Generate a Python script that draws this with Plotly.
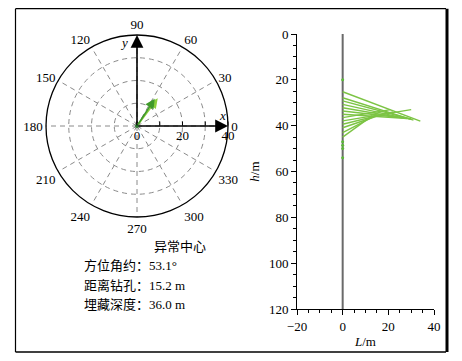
import math
import plotly.graph_objects as go

# ---------------- data ----------------
angle_ticks = [0, 30, 60, 90, 120, 150, 180, 210, 240, 270, 300, 330]
radial_ticks = [0, 10, 20, 30, 40]
radial_labels = ["0", "", "20", "", "40"]

arrow_azimuths = [53.1, 57.0]      # degrees
arrow_distances = [15.2, 14.3]     # m
arrow_colors = ["#8ccf3c", "#3f9a2a"]

azimuth = 53.1
distance = 15.2
depth = 36.0

# fan of lines in the depth profile
fan_start_h = [25.2, 27.8, 29.2, 30.7, 32.2, 33.6, 35.0, 36.5, 37.9, 39.4, 40.9, 43.0, 45.0]
fan_end_L = [34.0, 31.0, 30.0, 28.0, 26.0, 24.0, 30.0, 21.0, 30.0, 22.0, 18.0, 15.0, 13.0]
fan_end_h = [38.0, 37.6, 37.2, 36.9, 36.6, 36.3, 37.0, 33.0, 33.0, 34.0, 34.8, 35.3, 35.6]
dot_h = [20, 47, 48.5, 50, 54]
borehole_h = [0, 120]

# page has an 8px body margin: figure sized to fit the window exactly
OFF = 8
W, H = 462 - 2 * OFF, 361 - 2 * OFF
serif = "Liberation Serif, Times New Roman, Noto Sans CJK SC, serif"

def px(x):
    return (x - OFF) / W

def py(y):
    return 1 - (y - OFF) / H

cx, cy, R = 137, 126, 91
pdx = [px(cx - R), px(cx + R)]
pdy = [py(cy + R), py(cy - R)]

fig = go.Figure()

fig.add_trace(go.Scatterpolar(r=[0], theta=[0], mode="markers",
                              marker=dict(color="#2e7d32", size=4),
                              subplot="polar", showlegend=False, hoverinfo="skip"))

fig.add_trace(go.Scatter(x=[0], y=[0], xaxis="x2", yaxis="y2", mode="markers",
                         marker=dict(opacity=0), showlegend=False, hoverinfo="skip"))

fig.add_trace(go.Scatter(x=[0, 0], y=borehole_h, mode="lines",
                         line=dict(color="#6a6a6a", width=2),
                         showlegend=False, hoverinfo="skip"))

fx, fy = [], []
for h0, le, he in zip(fan_start_h, fan_end_L, fan_end_h):
    fx += [0, le, None]
    fy += [h0, he, None]
fig.add_trace(go.Scatter(x=fx, y=fy, mode="lines",
                         line=dict(color="#7cc444", width=1.4),
                         showlegend=False, hoverinfo="skip"))
fig.add_trace(go.Scatter(x=[0] * len(dot_h), y=dot_h, mode="markers",
                         marker=dict(color="#5cb83a", size=3),
                         showlegend=False, hoverinfo="skip"))

fig.update_layout(
    width=W, height=H,
    margin=dict(l=0, r=0, t=0, b=0, autoexpand=False),
    paper_bgcolor="white", plot_bgcolor="white",
    font=dict(family=serif, size=13, color="black"),
    polar=dict(
        domain=dict(x=pdx, y=pdy),
        bgcolor="rgba(0,0,0,0)",
        angularaxis=dict(
            tickvals=angle_ticks, ticktext=[str(a) for a in angle_ticks],
            direction="counterclockwise", rotation=0,
            showline=True, linecolor="black", linewidth=1.3,
            ticks="", showgrid=True, gridcolor="#8a8a8a", gridwidth=1,
            griddash="5px,4px", tickfont=dict(family=serif, size=13),
        ),
        radialaxis=dict(
            range=[0, 40], tickvals=radial_ticks, ticktext=radial_labels,
            angle=0, side="clockwise", ticks="inside", ticklen=4,
            tickcolor="black", showline=False, showgrid=True,
            gridcolor="#8a8a8a", gridwidth=1, griddash="5px,4px",
            tickangle=0, tickfont=dict(family=serif, size=13),
        ),
    ),
    xaxis=dict(
        domain=[px(297), px(434)], range=[-20, 40],
        tickvals=[-20, 0, 20, 40], ticks="outside", ticklen=5, tickcolor="black",
        minor=dict(dtick=5, tick0=0, ticks="outside", ticklen=3, tickcolor="black"),
        showline=True, linecolor="black", linewidth=1,
        showgrid=False, zeroline=False,
        tickfont=dict(family=serif, size=13),
        title=dict(text="<i>L</i>/m", font=dict(family=serif, size=13), standoff=4),
    ),
    yaxis=dict(
        domain=[py(309), py(34)], range=[120, 0],
        tickvals=[0, 20, 40, 60, 80, 100, 120], ticks="outside", ticklen=5, tickcolor="black",
        minor=dict(dtick=5, tick0=0, ticks="outside", ticklen=3, tickcolor="black"),
        showline=True, linecolor="black", linewidth=1,
        showgrid=False, zeroline=False,
        tickfont=dict(family=serif, size=13),
        title=dict(text="<i>h</i>/m", font=dict(family=serif, size=13), standoff=6),
    ),
    xaxis2=dict(domain=pdx, range=[-40, 40], visible=False, fixedrange=True),
    yaxis2=dict(domain=pdy, range=[-40, 40], visible=False, fixedrange=True),
)

ann = []
ann.append(dict(x=40, y=0, ax=0, ay=0, xref="x2", yref="y2", axref="x2", ayref="y2",
                showarrow=True, arrowhead=2, arrowsize=1.6, arrowwidth=1.6,
                arrowcolor="black", text=""))
ann.append(dict(x=0, y=40, ax=0, ay=0, xref="x2", yref="y2", axref="x2", ayref="y2",
                showarrow=True, arrowhead=2, arrowsize=1.6, arrowwidth=1.6,
                arrowcolor="black", text=""))
for az, d, c in zip(arrow_azimuths, arrow_distances, arrow_colors):
    ex = d * math.cos(math.radians(az))
    ey = d * math.sin(math.radians(az))
    ann.append(dict(x=ex, y=ey, ax=0, ay=0, xref="x2", yref="y2", axref="x2", ayref="y2",
                    showarrow=True, arrowhead=2, arrowsize=1.2, arrowwidth=1.6,
                    arrowcolor=c, text=""))
ann.append(dict(x=37.4, y=4.6, xref="x2", yref="y2", text="<i>x</i>", showarrow=False,
                font=dict(family=serif, size=13)))
ann.append(dict(x=-5.8, y=36.5, xref="x2", yref="y2", text="<i>y</i>", showarrow=False,
                font=dict(family=serif, size=13)))

ann.append(dict(x=px(152), y=py(256), xref="paper", yref="paper", text="异常中心",
                showarrow=False, font=dict(family=serif, size=13)))
lines = [f"方位角约：{azimuth:.1f}°", f"距离钻孔：{distance:.1f} m", f"埋藏深度：{depth:.1f} m"]
for i, t in enumerate(lines):
    ann.append(dict(x=px(82), y=py(275 + 19.5 * i), xref="paper", yref="paper", text=t,
                    showarrow=False, xanchor="left", font=dict(family=serif, size=13)))
fig.update_layout(annotations=ann)

# frame (four edges; right edge heavier)
L_, R_, T_, B_ = px(15.5), px(446), py(8.7), py(352)
frame = [
    (L_, T_, R_, T_, 1.2),
    (L_, B_, R_, B_, 1.5),
    (L_, B_, L_, T_, 1.2),
    (px(447), B_, px(447), T_, 3),
]
for x0, y0, x1, y1, w in frame:
    fig.add_shape(type="line", xref="paper", yref="paper",
                  x0=x0, y0=y0, x1=x1, y1=y1, line=dict(color="black", width=w))

fig.write_html("out.html")
